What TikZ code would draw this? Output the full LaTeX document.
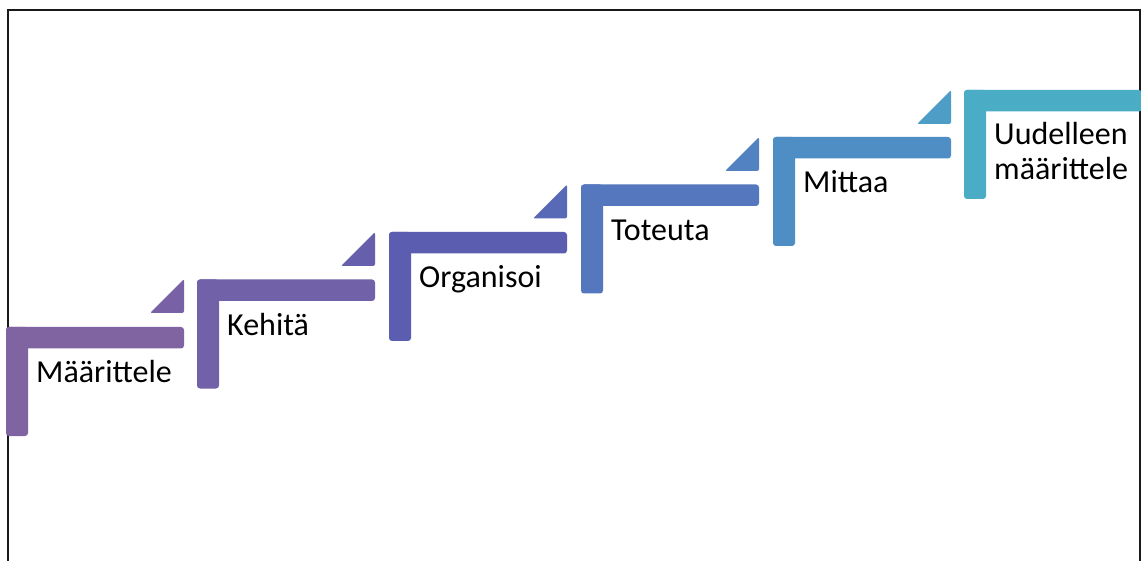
\documentclass[tikz,border=0pt]{standalone}
\usepackage{fontspec}
\setmainfont{Carlito}
\definecolor{sa}{HTML}{8064A2}
\definecolor{sb}{HTML}{7161A8}
\definecolor{sc}{HTML}{5A5DB0}
\definecolor{sd}{HTML}{5577BE}
\definecolor{se}{HTML}{4F8DC5}
\definecolor{sf}{HTML}{4BACC6}
\definecolor{tb}{HTML}{7862A5}
\definecolor{tc}{HTML}{665FAC}
\definecolor{td}{HTML}{5869B6}
\definecolor{te}{HTML}{5282C2}
\definecolor{tf}{HTML}{4D9DC6}
\tikzset{
  px/.style={x=1pt,y=-1pt},
  frameline/.style={draw=black!90,line width=2pt},
  steplabel/.style={anchor=base west,inner sep=0pt,align=left,
    font=\fontsize{32}{35}\selectfont},
}
% one stair step: an L made of two rounded bars, left x and top y given
\newcommand{\stairstep}[3]{%
  \fill[#3,rounded corners=3pt] (#1,#2) rectangle ++(178,21.5);
  \fill[#3,rounded corners=3pt] (#1,#2) rectangle ++(22,109);
}
% small wedge that leads up to the next step; right x and top y given
\newcommand{\stairwedge}[3]{%
  \fill[#3,rounded corners=2pt] (#1,#2) -- (#1,#2+34) -- (#1-34,#2+34) -- cycle;
}
\begin{document}
\begin{tikzpicture}[px]
\useasboundingbox (0,0) rectangle (1141,561);
\clip (0,0) rectangle (1141,561);
\fill[white] (0,0) rectangle (1141,561);
% frame
\draw[frameline] (8.3,563) -- (8.3,9.6) -- (1140,9.6) -- (1140,563);
% steps
\stairstep{6}{327}{sa}
\stairwedge{184}{279}{tb}
\stairstep{197}{279.5}{sb}
\stairwedge{375}{232}{tc}
\stairstep{389}{232}{sc}
\stairwedge{567}{184.5}{td}
\stairstep{581}{184.5}{sd}
\stairwedge{759}{137}{te}
\stairstep{773}{137}{se}
\stairwedge{951}{90}{tf}
\stairstep{964}{90}{sf}
% labels
\node[steplabel] (s1) at (36,383) {Määrittele};
\node[steplabel] (s2) at (227,335.5) {Kehitä};
\node[steplabel] (s3) at (419,288) {Organisoi};
\node[steplabel] (s4) at (611,240.5) {Toteuta};
\node[steplabel] (s5) at (803,193) {Mittaa};
\node[steplabel] (s6) at (994,180) {Uudelleen\\määrittele};
\end{tikzpicture}
\end{document}
